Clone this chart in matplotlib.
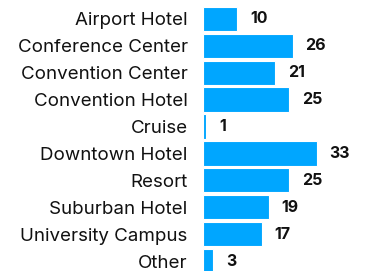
import matplotlib
matplotlib.use('Agg')
import matplotlib.pyplot as plt

# 데이터
categories = ['Airport Hotel', 'Conference Center', 'Convention Center', 'Convention Hotel',
              'Cruise', 'Downtown Hotel', 'Resort', 'Suburban Hotel', 'University Campus', 'Other']
values = [10, 26, 21, 25, 1, 33, 25, 19, 17, 3]

plt.rcParams['font.family'] = ['Inter', 'DejaVu Sans']

fig = plt.figure(figsize=(3.7, 2.71), dpi=100)
ax = fig.add_axes([0.5486, -0.013, 0.4476, 0.993])

y = list(range(len(categories)))
ax.barh(y, values, height=0.9, color='#00a6ff', edgecolor='white', linewidth=0.8)

# 값 라벨
for yi, v in zip(y, values):
    ax.annotate(str(v), (v, yi), xytext=(9, 0), textcoords='offset points',
                va='center', ha='left', fontsize=11.5, fontweight='bold', color='#111111')

ax.set_yticks(y)
ax.set_yticklabels(categories, fontsize=13.5, color='#111111')
ax.set_ylim(len(categories) - 0.5, -0.5)
ax.set_xlim(0, 48)
ax.tick_params(axis='y', length=0, pad=11)
ax.set_xticks([])
for s in ax.spines.values():
    s.set_visible(False)

fig.savefig('out.png', dpi=100)
